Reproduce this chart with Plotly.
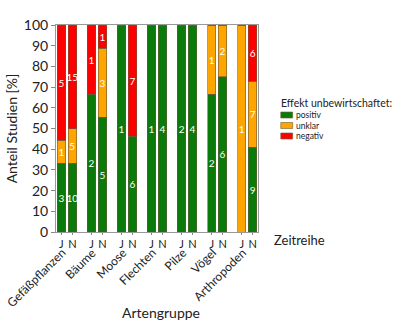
import plotly.graph_objects as go

groups = ["Gefäßpflanzen", "Bäume", "Moose", "Flechten", "Pilze", "Vögel", "Arthropoden"]
periods = ["J", "N"]
# counts per bar, order: group0 J, group0 N, group1 J, ...
positiv = [3, 10, 2, 5, 1, 6, 1, 4, 2, 4, 2, 6, 0, 9]
unklar  = [1, 5, 0, 3, 0, 0, 0, 0, 0, 0, 1, 2, 1, 7]
negativ = [5, 15, 1, 1, 0, 7, 0, 0, 0, 0, 0, 0, 0, 6]
series = [("positiv", positiv, "#0a7a0a"), ("unklar", unklar, "#ffa500"), ("negativ", negativ, "#ff0000")]

GROUP_STEP = 2.76
xpos = []
xlab = []
for gi, g in enumerate(groups):
    for pi, p in enumerate(periods):
        xpos.append(gi * GROUP_STEP + pi)
        xlab.append(p)

totals = [a + b + c for a, b, c in zip(positiv, unklar, negativ)]

FONT = "Lato"
fig = go.Figure()
for name, vals, col in series:
    pct = [v / t * 100 if t else 0 for v, t in zip(vals, totals)]
    fig.add_trace(go.Bar(
        x=xpos, y=pct, name=name, width=0.77,
        marker=dict(color=col, line=dict(color="#6b5a3a", width=0.6)),
        text=[str(v) if v > 0 else "" for v in vals],
        textposition="inside", insidetextanchor="middle", textangle=0,
        constraintext="none",
        textfont=dict(color="white", size=10, family=FONT),
        showlegend=False, hoverinfo="skip",
    ))

fig.update_layout(
    width=400, height=331, barmode="stack",
    margin=dict(l=54, r=142, t=25, b=99),
    plot_bgcolor="white", paper_bgcolor="white",
    font=dict(family=FONT, color="#222"),
    uniformtext=dict(minsize=10, mode="show"),
)
fig.update_xaxes(
    range=[-0.5, 18.05], tickmode="array", tickvals=xpos, ticktext=xlab,
    tickfont=dict(size=11), ticks="outside", ticklen=2, tickcolor="#888",
    showline=True, linecolor="#999", linewidth=1, mirror=True,
    showgrid=False, zeroline=False,
)
fig.update_yaxes(
    range=[0, 100], dtick=10, ticks="outside", ticklen=4, tickcolor="#888",
    tickfont=dict(size=14),
    showline=True, linecolor="#999", linewidth=1, mirror=True,
    showgrid=False, zeroline=False,
    title=dict(text="Anteil Studien [%]", font=dict(size=14), standoff=2),
)

# rotated group labels
for gi, g in enumerate(groups):
    xc = gi * GROUP_STEP + 0.5
    fig.add_annotation(
        x=xc + 0.45, y=-0.05, xref="x", yref="paper", text=g, textangle=-45,
        showarrow=False, xanchor="right", yanchor="top", font=dict(size=12),
    )

fig.add_annotation(x=272, y=240, xref="paper", yref="paper", text="Zeitreihe", showarrow=False,
                   font=dict(size=13), xanchor="left", yanchor="middle")
fig.add_annotation(text="Artengruppe", x=160, y=312, showarrow=False, font=dict(size=14),
                   xanchor="center", yanchor="middle")

# legend drawn manually
fig.add_annotation(text="Effekt unbewirtschaftet:", x=280, y=103, showarrow=False,
                   font=dict(size=10.5), xanchor="left", yanchor="middle", borderpad=0)
for i, (name, vals, col) in enumerate(series):
    yc = 115 + i * 10.5
    fig.add_shape(type="rect", x0=281, x1=293, y0=yc - 3, y1=yc + 3,
                  fillcolor=col, line=dict(color="#6b5a3a", width=0.6))
    fig.add_annotation(text=name, x=295, y=yc, showarrow=False, font=dict(size=8.5),
                       xanchor="left", yanchor="middle", borderpad=0)

# convert pixel-placed annotations/shapes (those not in data coords) to paper coords
L, R, T, B = 54, 258, 25, 232
def px2paper_x(px): return (px - L) / (R - L)
def px2paper_y(py): return (B - py) / (B - T)
for a in fig.layout.annotations:
    if a.xref != "x":
        a.xref = "paper"; a.yref = "paper"
        a.x = px2paper_x(a.x); a.y = px2paper_y(a.y)
for s in fig.layout.shapes:
    s.xref = "paper"; s.yref = "paper"
    s.x0 = px2paper_x(s.x0); s.x1 = px2paper_x(s.x1)
    s.y0 = px2paper_y(s.y0); s.y1 = px2paper_y(s.y1)

fig.write_html("out.html")
